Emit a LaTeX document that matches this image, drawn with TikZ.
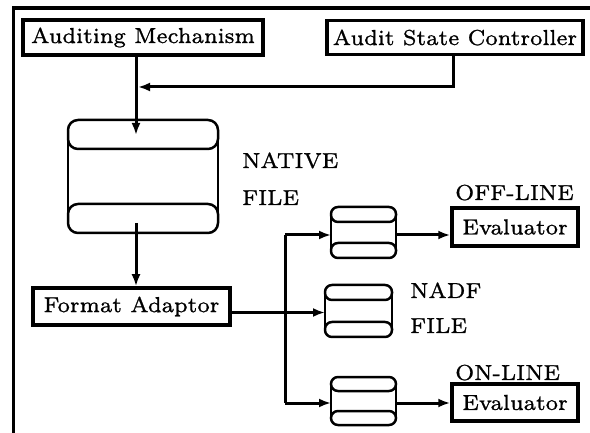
\documentclass[tikz,border=0pt]{standalone}
\usepackage{fontspec}
\setmainfont{lmroman7-regular.otf}[FakeBold=1]
\usetikzlibrary{arrows.meta}
\newcommand\bigfont{\fontsize{21.7}{26}\selectfont}
\newcommand\cylshape[3]{% node name, band height, corner radius
  \draw[cylline, rounded corners=#3pt] (#1.north west) rectangle ([yshift=-#2pt]#1.north east);
  \draw[cylline, rounded corners=#3pt] ([yshift=#2pt]#1.south west) rectangle (#1.south east);
  \draw[cylline] ([yshift=-#3pt]#1.north west) -- ([yshift=#3pt]#1.south west);
  \draw[cylline] ([yshift=-#3pt]#1.north east) -- ([yshift=#3pt]#1.south east);
}
\tikzset{
  box/.style={draw, line width=3.5pt, inner sep=0pt, font=\bigfont},
  conn/.style={line width=3pt},
  arr/.style={conn, -{Latex[length=12pt,width=9pt]}},
  cylbox/.style={inner sep=0pt, outer sep=0pt},
  cylline/.style={line width=2.5pt},
  lbl/.style={anchor=base west, inner sep=0pt, font=\bigfont},
  frame/.style={line width=3.5pt},
}
\begin{document}
\begin{tikzpicture}[x=1pt,y=-1pt]
\useasboundingbox (0,0) rectangle (590,433);
% frame
\draw[frame] (13.5,433) -- (13.5,8) -- (590,8);

% boxes
\node[box, minimum width=240pt, minimum height=35pt] (am) at (143,37.5) {Auditing Mechanism};
\node[box, minimum width=256pt, minimum height=34pt] (asc) at (455,37.5) {Audit State Controller};
\node[box, minimum width=197pt, minimum height=37pt] (fa) at (131.5,306.5) {Format Adaptor};
\node[box, minimum width=126pt, minimum height=38pt] (ev1) at (515,227) {Evaluator};
\node[box, minimum width=126pt, minimum height=37pt] (ev2) at (515,402.5) {Evaluator};

% cylinders
\node[cylbox, minimum width=150pt, minimum height=113pt] (native) at (143,176.5) {};
\cylshape{native}{29}{10}
\node[cylbox, minimum width=65pt, minimum height=51pt] (c1) at (363.5,232.5) {};
\cylshape{c1}{15}{7}
\node[cylbox, minimum width=67pt, minimum height=52pt] (nadf) at (358.5,311) {};
\cylshape{nadf}{15}{7}
\node[cylbox, minimum width=65pt, minimum height=48pt] (c2) at (363.5,401) {};
\cylshape{c2}{14}{7}

% labels
\node[lbl] (nat1) at (242,168) {NATIVE};
\node[lbl] (nat2) at (242,205) {FILE};
\node[lbl] (off) at (455,200) {OFF-LINE};
\node[lbl] (on) at (455,380) {ON-LINE};
\node[lbl] (nd1) at (410,298) {NADF};
\node[lbl] (nd2) at (410,333) {FILE};

% helper coordinates
\coordinate (amx) at (136,0);
\coordinate (nattip) at (136,135);
\coordinate (ascx) at (453,0);
\coordinate (join) at (138,87);
\coordinate (natout) at (136,223);
\coordinate (fay) at (0,312.5);
\coordinate (br1) at (285,235);
\coordinate (br2) at (285,403);

% connectors
\draw[arr] (am.south -| amx) -- (nattip);
\draw[arr] (asc.south -| ascx) |- (join);
\draw[arr] (natout) -- (fa.north -| natout);
\draw[arr] (fa.east |- fay) -- (nadf.west |- fay);
\draw[conn] (br1) -- (br2);
\draw[arr] (br1) -- (c1.west |- br1);
\draw[arr] (br2) -- (c2.west |- br2);
\draw[arr] (c1.east |- br1) -- (ev1.west |- br1);
\draw[arr] (c2.east |- br2) -- (ev2.west |- br2);
\end{tikzpicture}
\end{document}
